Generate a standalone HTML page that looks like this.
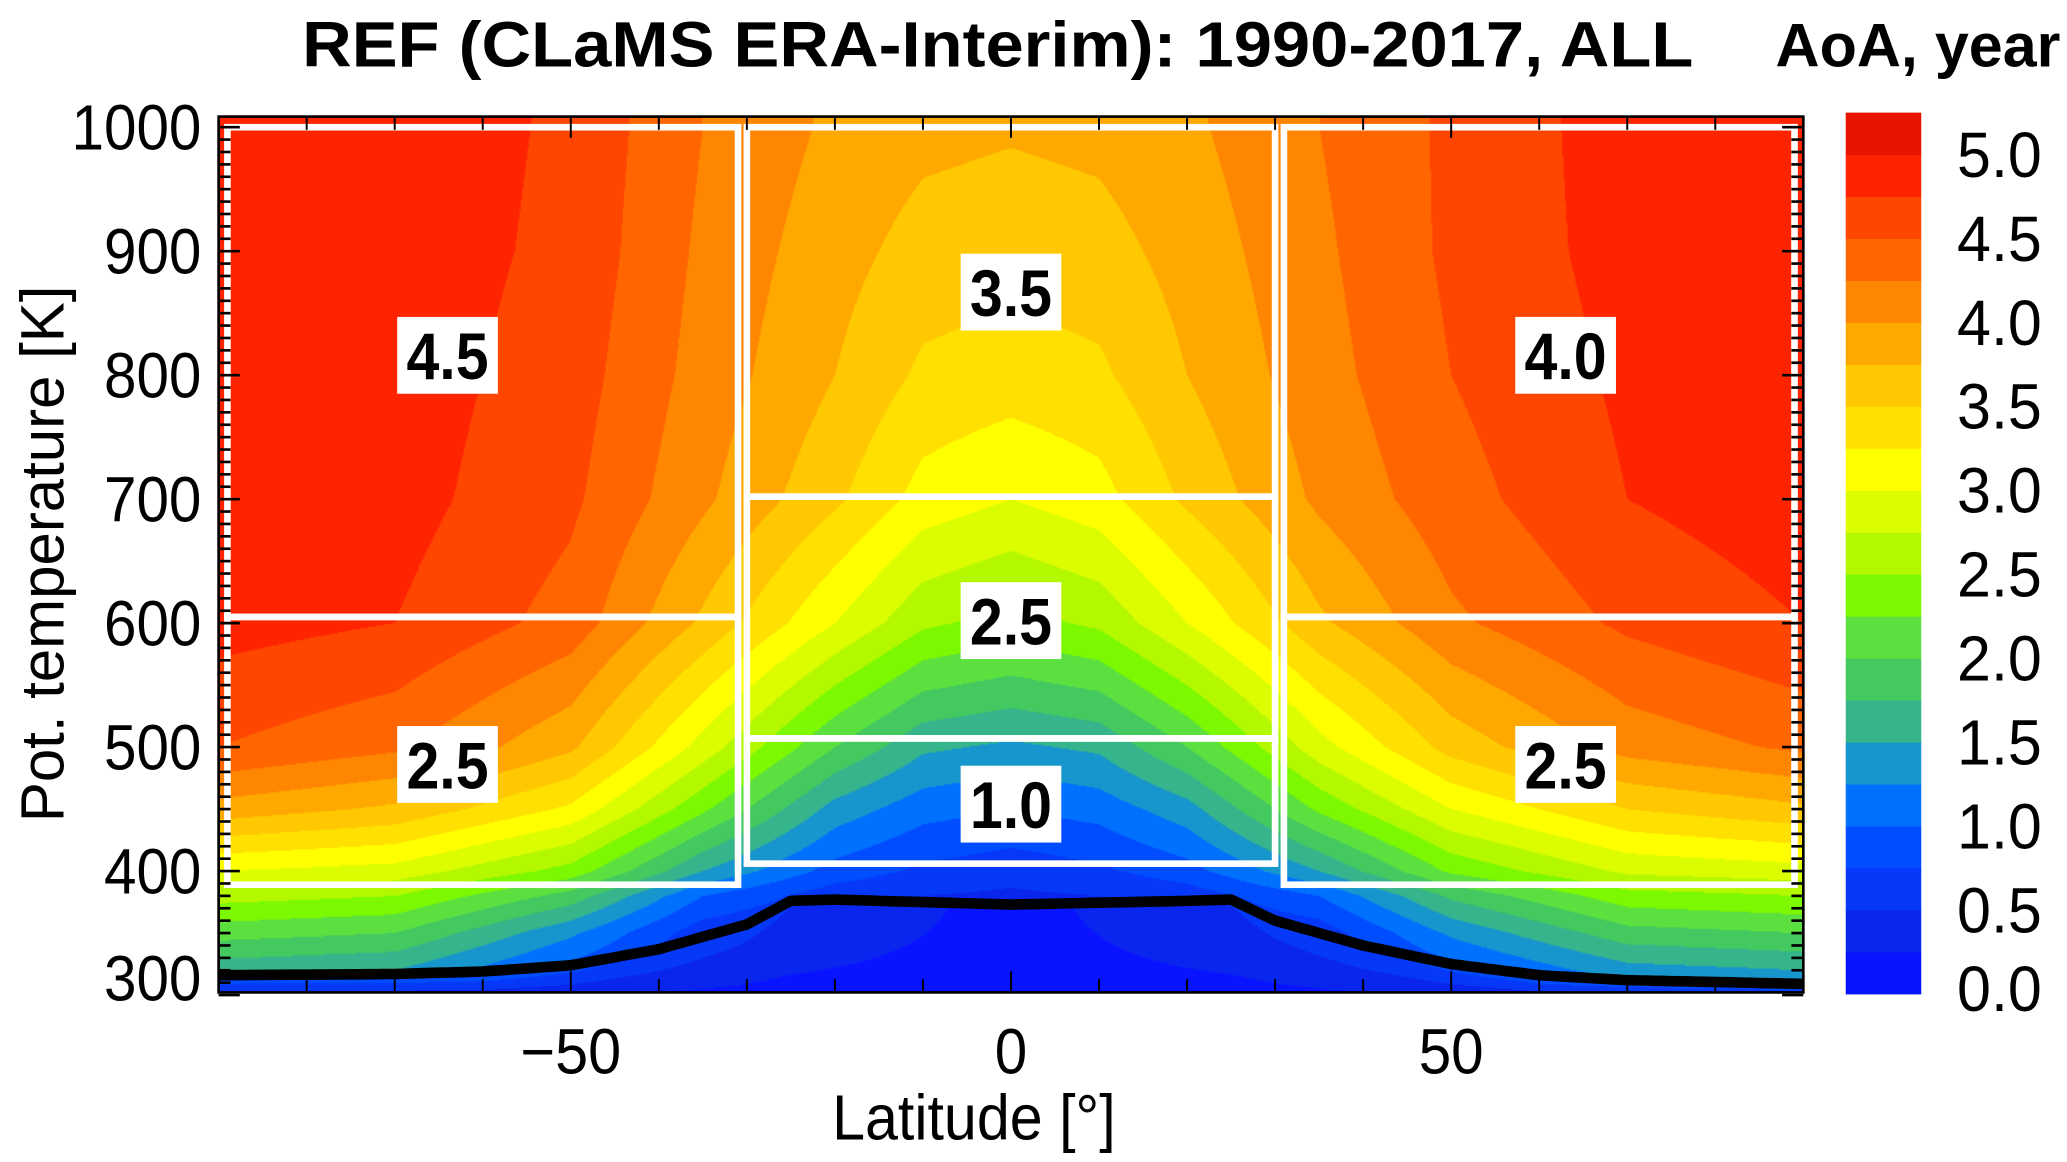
<!DOCTYPE html>
<html><head><meta charset="utf-8">
<style>
html,body{margin:0;padding:0;background:#fff;}
#wrap{position:relative;width:2067px;height:1162px;overflow:hidden;}
#stage{position:absolute;left:0;top:0;width:1560px;height:877px;transform:scale(1.325);transform-origin:0 0;font-family:"Liberation Sans",Arial,sans-serif;}
#field{position:absolute;left:165px;top:88px;width:1196px;height:661px;}
svg{position:absolute;left:0;top:0;}
</style></head>
<body>
<div id="wrap">
<div id="stage">
<canvas id="field" width="1196" height="661"></canvas>
<svg id="svg" width="1560" height="877" viewBox="0 0 1560 877"></svg>
</div></div>
<script>
// ---- data ----
const lats = [-90,-70,-50,-35,-20,-10,0,10,20,35,50,70,90];
const thetas = [300,320,350,380,400,450,500,600,700,800,900,1000];
const aoa = [
 [1.1,1.0,0.7,0.4,0.15,0.1,0.05,0.1,0.15,0.4,0.7,0.9,1.0],
 [1.6,1.5,0.9,0.45,0.3,0.2,0.15,0.2,0.3,0.45,0.9,1.4,1.5],
 [2.1,2.0,1.3,0.6,0.45,0.35,0.3,0.35,0.45,0.6,1.3,1.9,2.0],
 [2.6,2.5,1.9,1.0,0.6,0.5,0.45,0.5,0.6,1.0,1.8,2.4,2.5],
 [3.0,2.9,2.4,1.5,0.9,0.7,0.6,0.7,0.9,1.5,2.3,2.8,2.9],
 [3.9,3.7,3.2,2.3,1.4,1.1,1.0,1.1,1.4,2.3,3.0,3.5,3.7],
 [4.5,4.3,3.8,2.9,2.0,1.55,1.45,1.55,2.0,2.9,3.6,4.1,4.3],
 [4.85,4.75,4.4,3.7,3.0,2.55,2.4,2.55,3.0,3.7,4.2,4.55,4.75],
 [4.9,4.85,4.55,4.05,3.55,3.15,3.0,3.15,3.55,4.05,4.4,4.75,4.9],
 [4.92,4.88,4.62,4.15,3.75,3.45,3.38,3.45,3.75,4.15,4.5,4.8,4.92],
 [4.95,4.9,4.68,4.2,3.85,3.65,3.6,3.65,3.85,4.2,4.55,4.85,4.95],
 [4.97,4.92,4.7,4.25,3.95,3.82,3.78,3.82,3.95,4.25,4.55,4.87,4.97]
];
const tropLat = [-90,-70,-60,-50,-40,-30,-25,-20,0,20,25,30,40,50,60,70,90];
const tropTheta = [316,317,319,324,337,357,376,377,373,376,377,360,340,325,316,312,309];
const boxLat0 = [-89,-89,-30,-30,-30,31,31];
const boxLat1 = [-31,-31,30,30,30,89,89];
const boxTh0 = [605,389,702,507,406,605,389];
const boxTh1 = [1000,605,1000,702,507,1000,605];
const boxVal = ["4.5","2.5","3.5","2.5","1.0","4.0","2.5"];
const boxLabLat = [-64,-64,0,0,0,63,63];
const boxLabTh = [816,486,867,602,454,816,486];
const yTicks = [300,400,500,600,700,800,900,1000];
const xTicks = [-50,0,50];
const cbTicks = ["0.0","0.5","1.0","1.5","2.0","2.5","3.0","3.5","4.0","4.5","5.0"];
const levels = ["#0814ff","#0a26ee","#0638fa","#004cff","#0070ff","#1696cc","#36b48c","#44c860","#5ce040","#7cf800","#b4f800","#dcfc00","#ffff00","#ffe000","#ffc800","#ffa800","#ff8600","#ff6600","#ff4600","#ff2400","#e81400"];

// ---- axes ----
const PX0=165, PX1=1361, PY_TOP=88;
function xs(lat){return PX0+(lat+90)*(PX1-PX0)/180;}
function ys(th){return 96+(1000-th)*0.9357;}
function cbY(v){return 750-v*126.7;}

// ---- field ----
function findIdx(arr,v){for(let i=0;i<arr.length-1;i++){if(v<=arr[i+1])return i;}return arr.length-2;}
function sample(lat,th){
  th=Math.max(thetas[0],Math.min(thetas[thetas.length-1],th));
  lat=Math.max(-90,Math.min(90,lat));
  const i=findIdx(lats,lat), j=findIdx(thetas,th);
  const fx=(lat-lats[i])/(lats[i+1]-lats[i]), fy=(th-thetas[j])/(thetas[j+1]-thetas[j]);
  const a=aoa[j][i],b=aoa[j][i+1],c=aoa[j+1][i],d=aoa[j+1][i+1];
  return (a*(1-fx)+b*fx)*(1-fy)+(c*(1-fx)+d*fx)*fy;
}
const cv=document.getElementById('field'), ctx=cv.getContext('2d');
const W=cv.width,H=cv.height;
const img=ctx.createImageData(W,H);
const rgb=levels.map(h=>[parseInt(h.substr(1,2),16),parseInt(h.substr(3,2),16),parseInt(h.substr(5,2),16)]);
function tropAt(lat){const i=findIdx(tropLat,lat);const f=(lat-tropLat[i])/(tropLat[i+1]-tropLat[i]);return tropTheta[i]*(1-f)+tropTheta[i+1]*f;}
for(let px=0;px<W;px++){
  const lat=-90+(px+0.5)*180/W;
  const tp=tropAt(lat);
  for(let py=0;py<H;py++){
    const th=1000-((py+PY_TOP+0.5)-96)/0.9357;
    let v=sample(lat,th);
    if(th<tp) v=Math.min(v,0.15+(th-295)/(tp-295)*0.9*Math.min(1,Math.abs(lat)/60));
    let k=Math.floor(v/0.25); k=Math.max(0,Math.min(20,k));
    const o=(py*W+px)*4;
    img.data[o]=rgb[k][0];img.data[o+1]=rgb[k][1];img.data[o+2]=rgb[k][2];img.data[o+3]=255;
  }
}
ctx.putImageData(img,0,0);

// ---- svg ----
const NS="http://www.w3.org/2000/svg", svg=document.getElementById('svg');
function mk(tag,attrs,parent){const e=document.createElementNS(NS,tag);for(const k in attrs)e.setAttribute(k,attrs[k]);(parent||svg).appendChild(e);return e;}

// boxes
for(let b=0;b<boxVal.length;b++){
  const x0=xs(boxLat0[b]),x1=xs(boxLat1[b]),y0=ys(boxTh1[b]),y1=ys(boxTh0[b]);
  const r=mk('rect',{x:x0,y:y0,width:x1-x0,height:y1-y0,fill:'none',stroke:'#fff','stroke-width':5});
  
  
}
for(let b=0;b<boxVal.length;b++){
  const cx=xs(boxLabLat[b]),cy=ys(boxLabTh[b]);
  const lb=mk('rect',{x:cx-38,y:cy-29,width:76,height:58,fill:'#fff'});
  
  
  const t=mk('text',{x:cx,y:cy+18,'text-anchor':'middle','font-size':50,'font-weight':'bold',fill:'#000',textLength:62,lengthAdjust:'spacingAndGlyphs'});
  t.textContent=boxVal[b];
  
  
}

// tropopause line
let d='';
for(let i=0;i<=180;i++){const lat=-90+i;d+=(i?'L':'M')+xs(lat).toFixed(1)+','+ys(tropAt(lat)).toFixed(1);}
const tl=mk('path',{d:d,fill:'none',stroke:'#000','stroke-width':8,'stroke-linejoin':'round'});



// frame
const fr=mk('rect',{x:PX0,y:PY_TOP,width:PX1-PX0,height:749-PY_TOP,fill:'none',stroke:'#000','stroke-width':2});



// ticks
for(let lat=-80;lat<=80;lat+=10){
  const major=lat%50===0, len=major?16:10;
  mk('line',{x1:xs(lat),x2:xs(lat),y1:749,y2:749-len,stroke:'#000','stroke-width':1.5});
  mk('line',{x1:xs(lat),x2:xs(lat),y1:PY_TOP,y2:PY_TOP+len,stroke:'#000','stroke-width':1.5});
}
for(let th=300;th<=1000;th+=10){
  const major=th%100===0,len=major?16:9;
  mk('line',{x1:PX0,x2:PX0+len,y1:ys(th),y2:ys(th),stroke:'#000','stroke-width':2});
  mk('line',{x1:PX1,x2:PX1-len,y1:ys(th),y2:ys(th),stroke:'#000','stroke-width':2});
}
yTicks.forEach(v=>{
  const s=String(v);
  const t=mk('text',{x:152,y:(v===300?738:ys(v))+17,'text-anchor':'end','font-size':48,fill:'#000',textLength:s.length*24.5,lengthAdjust:'spacingAndGlyphs'});
  t.textContent=s;
  
  
});
xTicks.forEach(v=>{
  const s=v<0?'\u2212'+Math.abs(v):String(v);
  const t=mk('text',{x:xs(v),y:810,'text-anchor':'middle','font-size':48,fill:'#000',textLength:v<0?76:(s.length*24.5),lengthAdjust:'spacingAndGlyphs'});
  t.textContent=s;
  
  
});

// colorbar
for(let k=0;k<levels.length;k++){
  const yt=(k===20)?85:cbY((k+1)*0.25), yb=cbY(k*0.25);
  const r=mk('rect',{x:1393,y:yt,width:57,height:yb-yt+0.5,fill:levels[k]});
  
  
}
cbTicks.forEach(s=>{
  const t=mk('text',{x:1477,y:cbY(parseFloat(s))+(s==='0.0'?13:17),'font-size':48,fill:'#000',textLength:64,lengthAdjust:'spacingAndGlyphs'});
  t.textContent=s;
  
  
});

// titles
function txt(s,attrs,name){const t=mk('text',attrs);t.textContent=s;return t;}
txt('REF (CLaMS ERA-Interim): 1990-2017, ALL',{x:228,y:50,'font-size':48,'font-weight':'bold',fill:'#000',textLength:1050,lengthAdjust:'spacingAndGlyphs'},'chart-title');
txt('AoA, year',{x:1340,y:50,'font-size':46,'font-weight':'bold',fill:'#000',textLength:215,lengthAdjust:'spacingAndGlyphs'},'colorbar-title');
txt('Latitude [\u00b0]',{x:628,y:860,'font-size':48,fill:'#000',textLength:214,lengthAdjust:'spacingAndGlyphs'},'x-axis-title');
txt('Pot. temperature [K]',{x:0,y:0,'text-anchor':'middle','font-size':46,fill:'#000',textLength:405,lengthAdjust:'spacingAndGlyphs',transform:'translate(48,418) rotate(-90)'},'y-axis-title');
</script>
</body></html>
